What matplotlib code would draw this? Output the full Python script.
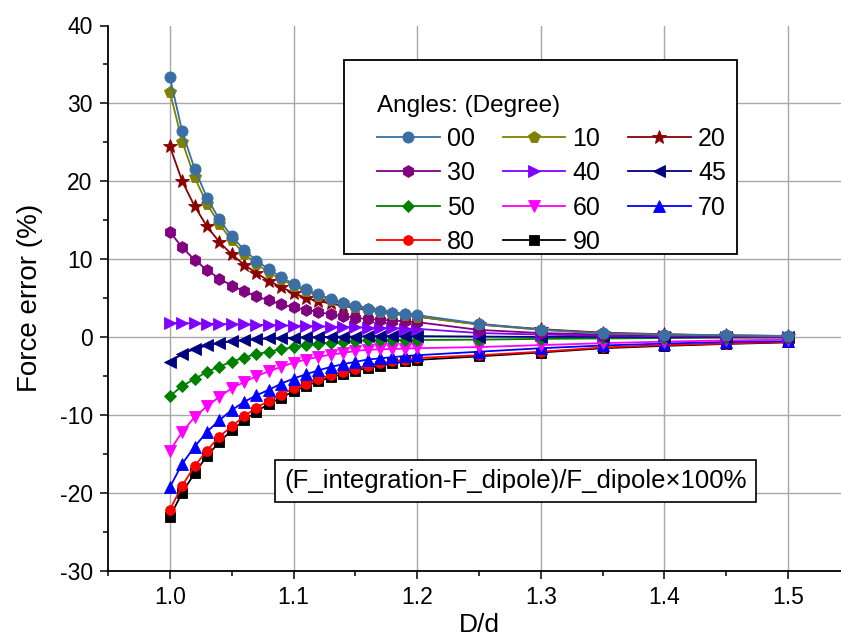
import matplotlib
matplotlib.use("Agg")
import matplotlib.pyplot as plt
from matplotlib.patches import Rectangle
from matplotlib.ticker import MultipleLocator

plt.rcParams['font.family'] = ['Liberation Sans', 'DejaVu Sans']
plt.rcParams['axes.unicode_minus'] = False

# D/d values
x = [1.00, 1.01, 1.02, 1.03, 1.04, 1.05, 1.06, 1.07, 1.08, 1.09, 1.10,
     1.11, 1.12, 1.13, 1.14, 1.15, 1.16, 1.17, 1.18, 1.19, 1.20,
     1.25, 1.30, 1.35, 1.40, 1.45, 1.50]

# force error (%) per angle
e00 = [33.4, 26.4, 21.6, 17.9, 15.1, 12.9, 11.2, 9.8, 8.7, 7.7, 6.8,
       6.1, 5.45, 4.9, 4.4, 4.0, 3.65, 3.35, 3.1, 2.95, 2.8,
       1.7, 0.95, 0.45, 0.3, 0.2, 0.12]
e10 = [31.5, 25.1, 20.5, 17.1, 14.5, 12.4, 10.7, 9.4, 8.3, 7.4, 6.6,
       5.9, 5.3, 4.8, 4.3, 3.9, 3.55, 3.25, 3.0, 2.8, 2.6,
       1.6, 0.9, 0.45, 0.3, 0.2, 0.1]
e20 = [24.5, 20.0, 16.8, 14.2, 12.2, 10.6, 9.3, 8.2, 7.2, 6.4, 5.65,
       5.0, 4.6, 4.3, 4.0, 3.7, 3.45, 3.2, 3.0, 2.8, 2.6,
       1.6, 1.0, 0.55, 0.35, 0.2, 0.12]
e30 = [13.5, 11.5, 9.9, 8.6, 7.5, 6.6, 5.9, 5.2, 4.7, 4.2, 3.8,
       3.5, 3.2, 2.9, 2.65, 2.45, 2.3, 2.2, 2.1, 2.0, 1.9,
       0.9, 0.5, 0.3, 0.2, 0.1, 0.05]
e40 = [1.8, 1.77, 1.74, 1.7, 1.67, 1.63, 1.6, 1.56, 1.52, 1.48, 1.44,
       1.4, 1.36, 1.32, 1.28, 1.24, 1.2, 1.16, 1.12, 1.08, 1.04,
       0.5, 0.3, 0.15, 0.1, 0.05, 0.0]
e45 = [-3.2, -2.2, -1.55, -1.1, -0.8, -0.55, -0.4, -0.3, -0.2, -0.15, -0.1,
       -0.05, 0.0, 0.0, 0.05, 0.05, 0.1, 0.1, 0.1, 0.1, 0.1,
       0.05, 0.0, 0.0, 0.0, 0.0, 0.0]
e50 = [-7.6, -6.3, -5.4, -4.5, -3.8, -3.2, -2.65, -2.2, -1.9, -1.6, -1.3,
       -1.07, -0.85, -0.72, -0.6, -0.5, -0.45, -0.42, -0.4, -0.4, -0.4,
       -0.35, -0.25, -0.2, -0.15, -0.1, -0.1]
e60 = [-14.6, -12.2, -10.3, -8.9, -7.7, -6.6, -5.8, -5.05, -4.4, -3.86, -3.3,
       -2.9, -2.57, -2.27, -2.06, -1.8, -1.65, -1.6, -1.55, -1.5, -1.45,
       -1.3, -1.05, -0.8, -0.6, -0.45, -0.35]
e70 = [-19.3, -16.3, -14.1, -12.2, -10.7, -9.4, -8.35, -7.5, -6.8, -6.0, -5.35,
       -4.8, -4.3, -3.86, -3.5, -3.2, -2.9, -2.75, -2.6, -2.45, -2.35,
       -1.9, -1.45, -1.1, -0.85, -0.65, -0.55]
e80 = [-22.2, -19.1, -16.6, -14.6, -12.8, -11.5, -10.2, -9.1, -8.2, -7.4, -6.6,
       -6.0, -5.4, -4.9, -4.5, -4.07, -3.7, -3.4, -3.15, -2.9, -2.7,
       -2.35, -1.9, -1.35, -1.05, -0.85, -0.65]
e90 = [-23.1, -20.0, -17.5, -15.3, -13.5, -12.0, -10.7, -9.6, -8.6, -7.8, -7.0,
       -6.3, -5.7, -5.2, -4.75, -4.35, -4.0, -3.7, -3.4, -3.15, -2.95,
       -2.5, -2.0, -1.45, -1.15, -0.9, -0.7]

labels = ['00', '10', '20', '30', '40', '45', '50', '60', '70', '80', '90']
series = [e00, e10, e20, e30, e40, e45, e50, e60, e70, e80, e90]
colors = ['#3a6ea5', '#808000', '#8b0000', '#800080', '#8000ff', '#000080',
          '#008000', '#ff00ff', '#0000ff', '#ff0000', '#000000']
markers = ['o', 'p', '*', 'h', '>', '<', 'D', 'v', '^', 'o', 's']
msizes = [8, 8.5, 10, 8.5, 8, 8, 6.5, 8, 8, 7, 6.5]

fig = plt.figure(figsize=(8.41, 6.38), dpi=100)
ax = fig.add_axes([108 / 841, 67.5 / 638, 742 / 841, 545 / 638])

handles = {}
# draw in reverse so that 00 ends up on top
for lab, ys, c, m, ms in reversed(list(zip(labels, series, colors, markers, msizes))):
    h, = ax.plot(x, ys, color=c, marker=m, markersize=ms, lw=1.3,
                 markeredgecolor=c, markeredgewidth=0.6, label=lab, zorder=3)
    handles[lab] = h

ax.set_xlim(0.95, 1.55)
ax.set_ylim(-30, 40)
ax.set_xticks([1.0, 1.1, 1.2, 1.3, 1.4, 1.5])
ax.set_yticks(range(-30, 41, 10))
ax.xaxis.set_minor_locator(MultipleLocator(0.05))
ax.yaxis.set_minor_locator(MultipleLocator(5))
ax.tick_params(which='major', direction='out', length=6, width=1.1,
               labelsize=16.5, pad=5)
ax.tick_params(which='minor', direction='out', length=3.5, width=1.1)

ax.spines['top'].set_visible(False)
ax.spines['right'].set_visible(False)
ax.spines['left'].set_linewidth(1.3)
ax.spines['bottom'].set_linewidth(1.3)

ax.grid(True, which='major', color='#a8a8a8', lw=1.0, zorder=0)
ax.set_axisbelow(True)
ax.yaxis.get_major_ticks()[-1].gridline.set_visible(False)

ax.set_xlabel('D/d', fontsize=19, labelpad=3)
ax.set_ylabel('Force error (%)', fontsize=20, labelpad=12)

# legend frame
fig.patches.append(Rectangle((344 / 841, 1 - 254 / 638), 393 / 841, 194 / 638,
                             transform=fig.transFigure, facecolor='white',
                             edgecolor='black', lw=1.3, zorder=5))
order = ['00', '30', '50', '80', '10', '40', '60', '90', '20', '45', '70']
leg = fig.legend([handles[k] for k in order], order, loc='upper left',
                 bbox_to_anchor=(377 / 841, 1 - 95 / 638), ncol=3,
                 frameon=False, fontsize=18, title='Angles: (Degree)',
                 title_fontsize=17.5, alignment='left', borderpad=0,
                 handlelength=2.5, handletextpad=0.3, columnspacing=1.1,
                 labelspacing=0.42, borderaxespad=0)
leg.set_zorder(6)
leg._legend_box.sep = 7

ax.text(1.2795, -18.5, '(F_integration-F_dipole)/F_dipole×100%',
        fontsize=18.5, ha='center', va='center', zorder=6,
        bbox=dict(boxstyle='square,pad=0.35', facecolor='white',
                  edgecolor='black', lw=1.2))

fig.savefig('out.png', dpi=100)
